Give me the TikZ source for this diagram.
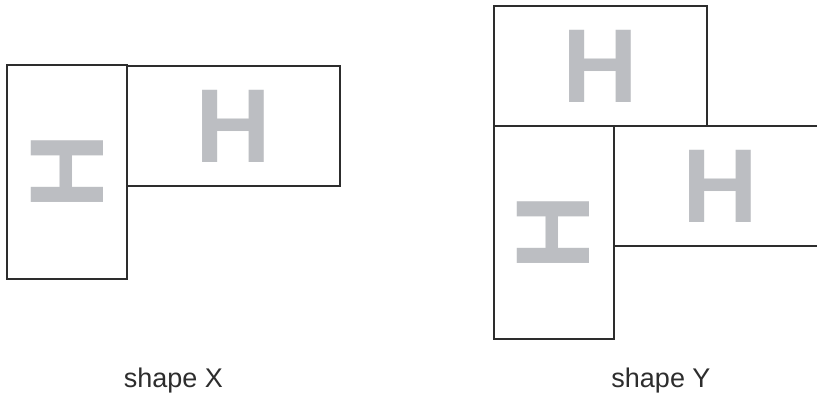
\documentclass[tikz,border=0pt]{standalone}
\usepackage{fontspec}
\setmainfont{Liberation Sans}
\definecolor{hgray}{RGB}{188,190,194}
\definecolor{edge}{RGB}{45,45,45}
\tikzset{
  block/.style={
    draw=edge,
    line width=2pt,
    minimum width=213pt,
    minimum height=120pt,
    inner sep=0pt,
    text=hgray,
    font=\fontsize{105}{105}\selectfont\bfseries
  },
  vblock/.style={
    block,
    rotate=90
  },
  caption/.style={
    anchor=base,
    text=edge,
    font=\fontsize{27}{30}\selectfont
  }
}

\begin{document}
\begin{tikzpicture}[x=1pt,y=-1pt]
  \useasboundingbox (0,0) rectangle (817,396);
  \clip (0,0) rectangle (817,396);
  % shape X
  \node[vblock] (xv) at (67,172) {H};
  \node[block] (xh) at (233.5,126) {H};
  % shape Y
  \node[block] (yt) at (600,66) {H};
  \node[vblock] (yv) at (553.5,232.5) {H};
  \node[block] (yh) at (720.5,186) {H};
  % labels
  \node[caption] (capx) at (173.5,387) {shape X};
  \node[caption] (capy) at (661,387) {shape Y};
\end{tikzpicture}
\end{document}
